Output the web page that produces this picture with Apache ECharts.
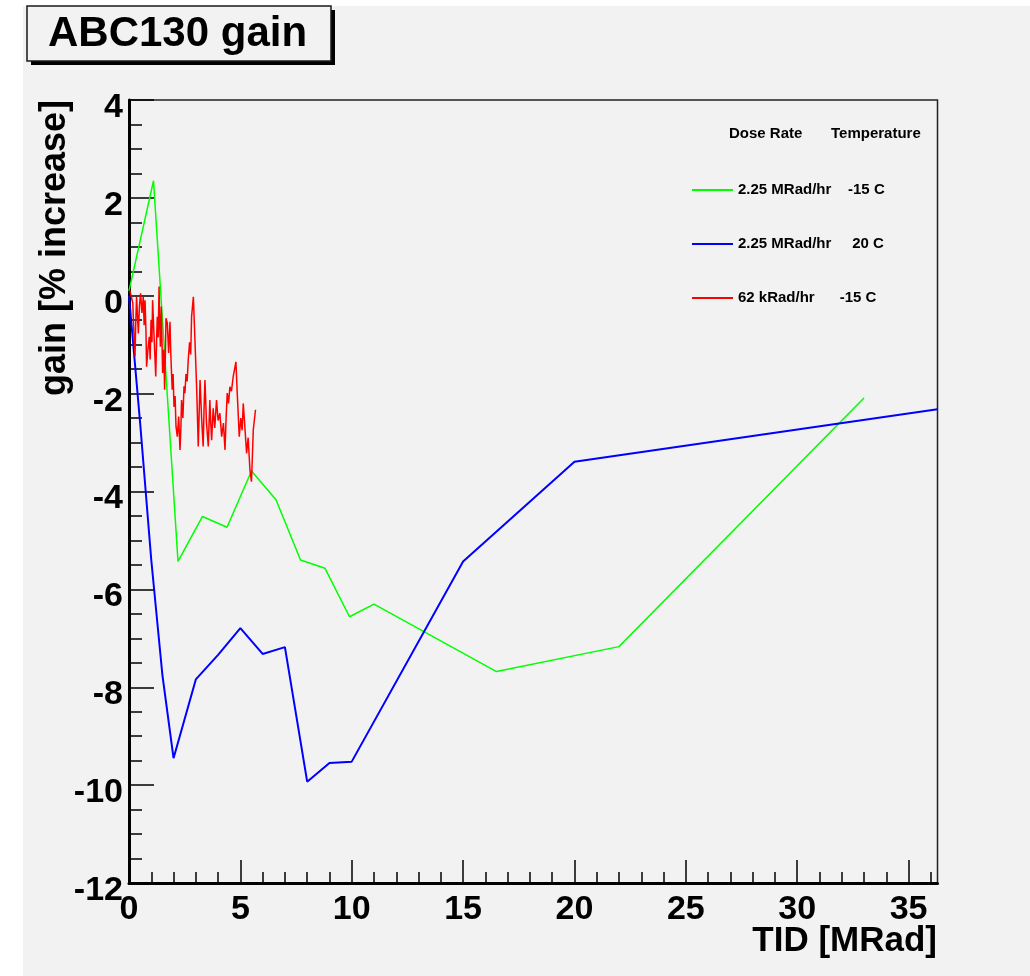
<!DOCTYPE html>
<html>
<head>
<meta charset="utf-8">
<script src="https://cdn.jsdelivr.net/npm/echarts@6/dist/echarts.min.js"></script>
<style>
html,body{margin:0;padding:0;background:#fff;}
#chart{width:1030px;height:976px;}
</style>
</head>
<body>
<div id="chart"></div>
<script>
// ---- data ----
const chartTitle = 'ABC130 gain';
const seriesNames = ['2.25 MRad/hr    -15 C', '2.25 MRad/hr     20 C', '62 kRad/hr      -15 C'];
const legendHeader = ['Dose Rate', 'Temperature'];
const xTitle = 'TID [MRad]';
const yTitle = 'gain [% increase]';

const greenX = [0, 1.1, 2.2, 3.3, 4.4, 5.5, 6.6, 7.7, 8.8, 9.9, 11, 16.5, 22, 33];
const greenY = [0.1, 2.35, -5.43, -4.51, -4.73, -3.58, -4.17, -5.40, -5.57, -6.56, -6.30, -7.68, -7.17, -2.09];

const blueX = [0, 0.5, 1, 1.5, 2, 3, 4, 5, 6, 7, 8, 9, 10, 15, 20, 36.3];
const blueY = [0, -2.6, -5.4, -7.75, -9.45, -7.84, -7.34, -6.79, -7.32, -7.18, -9.93, -9.55, -9.52, -5.43, -3.39, -2.32];

const redX = [0.03, 0.08, 0.12, 0.17, 0.22, 0.27, 0.30, 0.34, 0.38, 0.42, 0.47, 0.52, 0.58, 0.64, 0.68, 0.72, 0.76, 0.79, 0.85, 0.91,
  0.95, 0.99, 1.03, 1.06, 1.12, 1.16, 1.20, 1.24, 1.27, 1.31, 1.35, 1.38, 1.41, 1.45, 1.48, 1.51, 1.56, 1.60, 1.63, 1.66,
  1.72, 1.78, 1.84, 1.88, 1.94, 1.98, 2.02, 2.07, 2.11, 2.17, 2.23, 2.29, 2.33, 2.36, 2.42, 2.47, 2.51, 2.56, 2.61, 2.66,
  2.72, 2.77, 2.81, 2.89, 2.96, 3.04, 3.11, 3.15, 3.19, 3.26, 3.33, 3.37, 3.41, 3.48, 3.56, 3.63, 3.67, 3.71, 3.78, 3.85,
  3.93, 4.00, 4.08, 4.16, 4.24, 4.31, 4.36, 4.41, 4.47, 4.53, 4.60, 4.68, 4.74, 4.80, 4.86, 4.95, 5.02, 5.08, 5.13, 5.20,
  5.28, 5.35, 5.43, 5.50, 5.58, 5.68];
const redY = [0.12, 0.15, -0.05, -0.15, -0.77, -1.24, -0.60, -0.02, -0.40, -0.77, -0.20, 0.05, -0.35, -0.02, -0.60, -0.09, -0.70, -1.45, -1.10, -0.84,
  -1.30, -0.49, -0.95, -0.09, -0.77, -1.20, -1.65, -0.90, -0.43, -0.85, 0.19, -0.60, -1.04, -0.22, -0.90, -1.58, -1.10, -1.92, -1.30, -0.46,
  -0.56, -1.17, -0.53, -1.24, -1.92, -1.60, -2.27, -2.05, -2.67, -2.88, -2.47, -3.15, -2.70, -2.13, -2.50, -1.85, -1.99, -1.60, -1.75, -1.31,
  -0.95, -1.20, -0.43, -0.02, -0.90, -1.92, -3.08, -2.40, -1.72, -2.50, -3.08, -2.30, -1.72, -2.60, -3.08, -2.13, -2.60, -2.95, -2.30, -2.70,
  -2.13, -2.55, -2.40, -2.88, -2.60, -3.15, -2.50, -1.99, -2.20, -1.86, -1.95, -1.65, -1.50, -1.35, -1.99, -2.88, -2.50, -2.75, -2.20, -2.67,
  -3.22, -2.90, -3.56, -3.80, -2.74, -2.33];

const xMajor = [0, 5, 10, 15, 20, 25, 30, 35];
const xMinor = [1,2,3,4,6,7,8,9,11,12,13,14,16,17,18,19,21,22,23,24,26,27,28,29,31,32,33,34,36];

// ---- chart ----
const zip = (xs, ys) => xs.map((x, i) => [x, ys[i]]);
const FONT = '"Liberation Sans", Arial, Helvetica, sans-serif';
const chart = echarts.init(document.getElementById('chart'), null, {renderer: 'canvas'});

const baseX = {
  type: 'value', min: 0, max: 36.3, position: 'bottom',
  splitLine: {show: false}
};

chart.setOption({
  animation: false,
  backgroundColor: '#f2f2f2',
  grid: {
    left: 129, top: 100, width: 808.5, height: 783,
    show: true, borderColor: '#222', borderWidth: 1.5, backgroundColor: 'transparent',
    containLabel: false, outerBoundsMode: 'none'
  },
  legend: {
    orient: 'vertical', left: 692, top: 182, padding: 0,
    icon: 'rect', itemWidth: 41, itemHeight: 2, itemGap: 38,
    textStyle: {fontFamily: FONT, fontSize: 15, fontWeight: 'bold', color: '#000', lineHeight: 16},
    data: seriesNames
  },
  xAxis: [
    Object.assign({}, baseX, {
      axisLine: {show: true, onZero: false, lineStyle: {color: '#000', width: 3}},
      axisTick: {show: true, inside: true, length: 23, customValues: xMajor, lineStyle: {color: '#000', width: 1.5}},
      axisLabel: {show: true, customValues: xMajor, margin: 10, fontFamily: FONT, fontSize: 34, fontWeight: 'bold', color: '#000'}
    }),
    Object.assign({}, baseX, {
      axisLine: {show: false, onZero: false},
      axisTick: {show: true, inside: true, length: 11, customValues: xMinor, lineStyle: {color: '#000', width: 1.5}},
      axisLabel: {show: false}
    })
  ],
  yAxis: {
    type: 'value', min: -12, max: 4, interval: 2,
    splitLine: {show: false},
    axisLine: {show: true, onZero: false, lineStyle: {color: '#000', width: 3}},
    axisTick: {show: true, inside: true, length: 25, lineStyle: {color: '#000', width: 1.5}},
    minorTick: {show: true, splitNumber: 4, length: 13, lineStyle: {color: '#000', width: 1.5}},
    axisLabel: {margin: 6, verticalAlign: 'top', lineHeight: 15, fontFamily: FONT, fontSize: 34, fontWeight: 'bold', color: '#000'}
  },
  graphic: [
    {type: 'rect', shape: {x: 0, y: 0, width: 23, height: 976}, style: {fill: '#fff'}, z: -1},
    {type: 'rect', shape: {x: 0, y: 0, width: 1030, height: 6}, style: {fill: '#fff'}, z: -1},
    {type: 'rect', shape: {x: 31, y: 10, width: 304, height: 55}, style: {fill: '#000'}, z: 10},
    {type: 'rect', shape: {x: 27, y: 6, width: 304, height: 55}, style: {fill: '#f2f2f2', stroke: '#1a1a1a', lineWidth: 1.5}, z: 11},
    {type: 'text', x: 48, y: 34, z: 12,
      style: {text: chartTitle, font: 'bold 42px ' + FONT, fill: '#000', align: 'left', verticalAlign: 'middle'}},
    {type: 'text', x: 55, y: 100, rotation: Math.PI / 2,
      style: {text: yTitle, font: 'bold 36px ' + FONT, fill: '#000', align: 'right', verticalAlign: 'middle'}},
    {type: 'text', x: 937, y: 941,
      style: {text: xTitle, font: 'bold 35px ' + FONT, fill: '#000', align: 'right', verticalAlign: 'middle'}},
    {type: 'text', x: 729, y: 134,
      style: {text: legendHeader[0], font: 'bold 15px ' + FONT, fill: '#000', align: 'left', verticalAlign: 'middle'}},
    {type: 'text', x: 831, y: 134,
      style: {text: legendHeader[1], font: 'bold 15px ' + FONT, fill: '#000', align: 'left', verticalAlign: 'middle'}}
  ],
  series: [
    {name: seriesNames[0], type: 'line', data: zip(greenX, greenY), symbol: 'none', color: '#00ff00',
      lineStyle: {color: '#00ff00', width: 1.5}, xAxisIndex: 0, z: 3},
    {name: seriesNames[1], type: 'line', data: zip(blueX, blueY), symbol: 'none', color: '#0000ff',
      lineStyle: {color: '#0000ff', width: 2}, xAxisIndex: 0, z: 4},
    {name: seriesNames[2], type: 'line', data: zip(redX, redY), symbol: 'none', color: '#ff0000',
      lineStyle: {color: '#ff0000', width: 1.5}, xAxisIndex: 0, z: 5}
  ]
});
</script>
</body>
</html>
